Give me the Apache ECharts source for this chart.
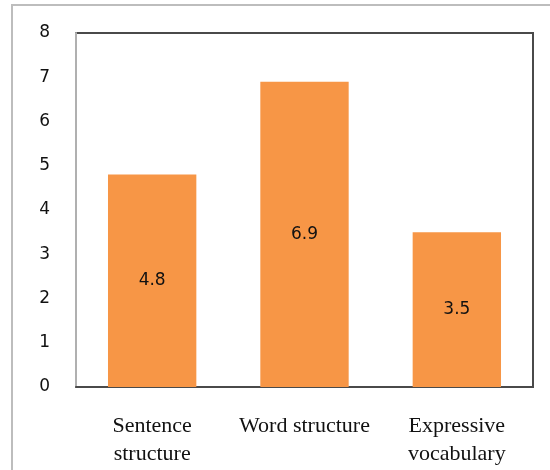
<!DOCTYPE html>
<html>
<head>
<meta charset="utf-8">
<script src="https://cdn.jsdelivr.net/npm/echarts@6/dist/echarts.min.js"></script>
<style>
html, body { margin: 0; padding: 0; background: #fff; }
#chart { width: 550px; height: 470px; }
</style>
</head>
<body>
<div id="chart"></div>
<script>
var categories = ['Sentence\nstructure', 'Word structure', 'Expressive\nvocabulary'];
var values = [4.8, 6.9, 3.5];
var yTicks = [0, 1, 2, 3, 4, 5, 6, 7, 8];

var chart = echarts.init(document.getElementById('chart'));

var option = {
    animation: false,
    graphic: [{
        type: 'rect',
        shape: { x: 12, y: 5, width: 560, height: 480 },
        style: { fill: 'none', stroke: '#bdbdbd', lineWidth: 2 },
        silent: true
    }],
    grid: {
        left: 76,
        top: 33,
        right: 17,
        bottom: 83,
        show: true,
        borderColor: '#4a4a4a',
        borderWidth: 2
    },
    xAxis: {
        type: 'category',
        data: categories,
        axisLine: { show: true, lineStyle: { color: '#4a4a4a', width: 2 } },
        axisTick: { show: false },
        axisLabel: {
            interval: 0,
            hideOverlap: false,
            margin: 25,
            color: '#111',
            fontFamily: 'Liberation Serif',
            fontSize: 22,
            lineHeight: 28
        }
    },
    yAxis: {
        type: 'value',
        min: yTicks[0],
        max: yTicks[yTicks.length - 1],
        interval: 1,
        splitLine: { show: false },
        axisTick: { show: false },
        axisLine: { show: true, lineStyle: { color: '#b0b0b0', width: 2 } },
        axisLabel: {
            margin: 26,
            color: '#111',
            fontFamily: 'DejaVu Sans',
            fontSize: 17
        }
    },
    series: [{
        type: 'bar',
        data: values,
        barWidth: '58%',
        itemStyle: { color: '#F79646' },
        label: {
            show: true,
            position: 'inside',
            color: '#111',
            fontFamily: 'DejaVu Sans',
            fontSize: 17
        }
    }]
};

chart.setOption(option);
</script>
</body>
</html>
